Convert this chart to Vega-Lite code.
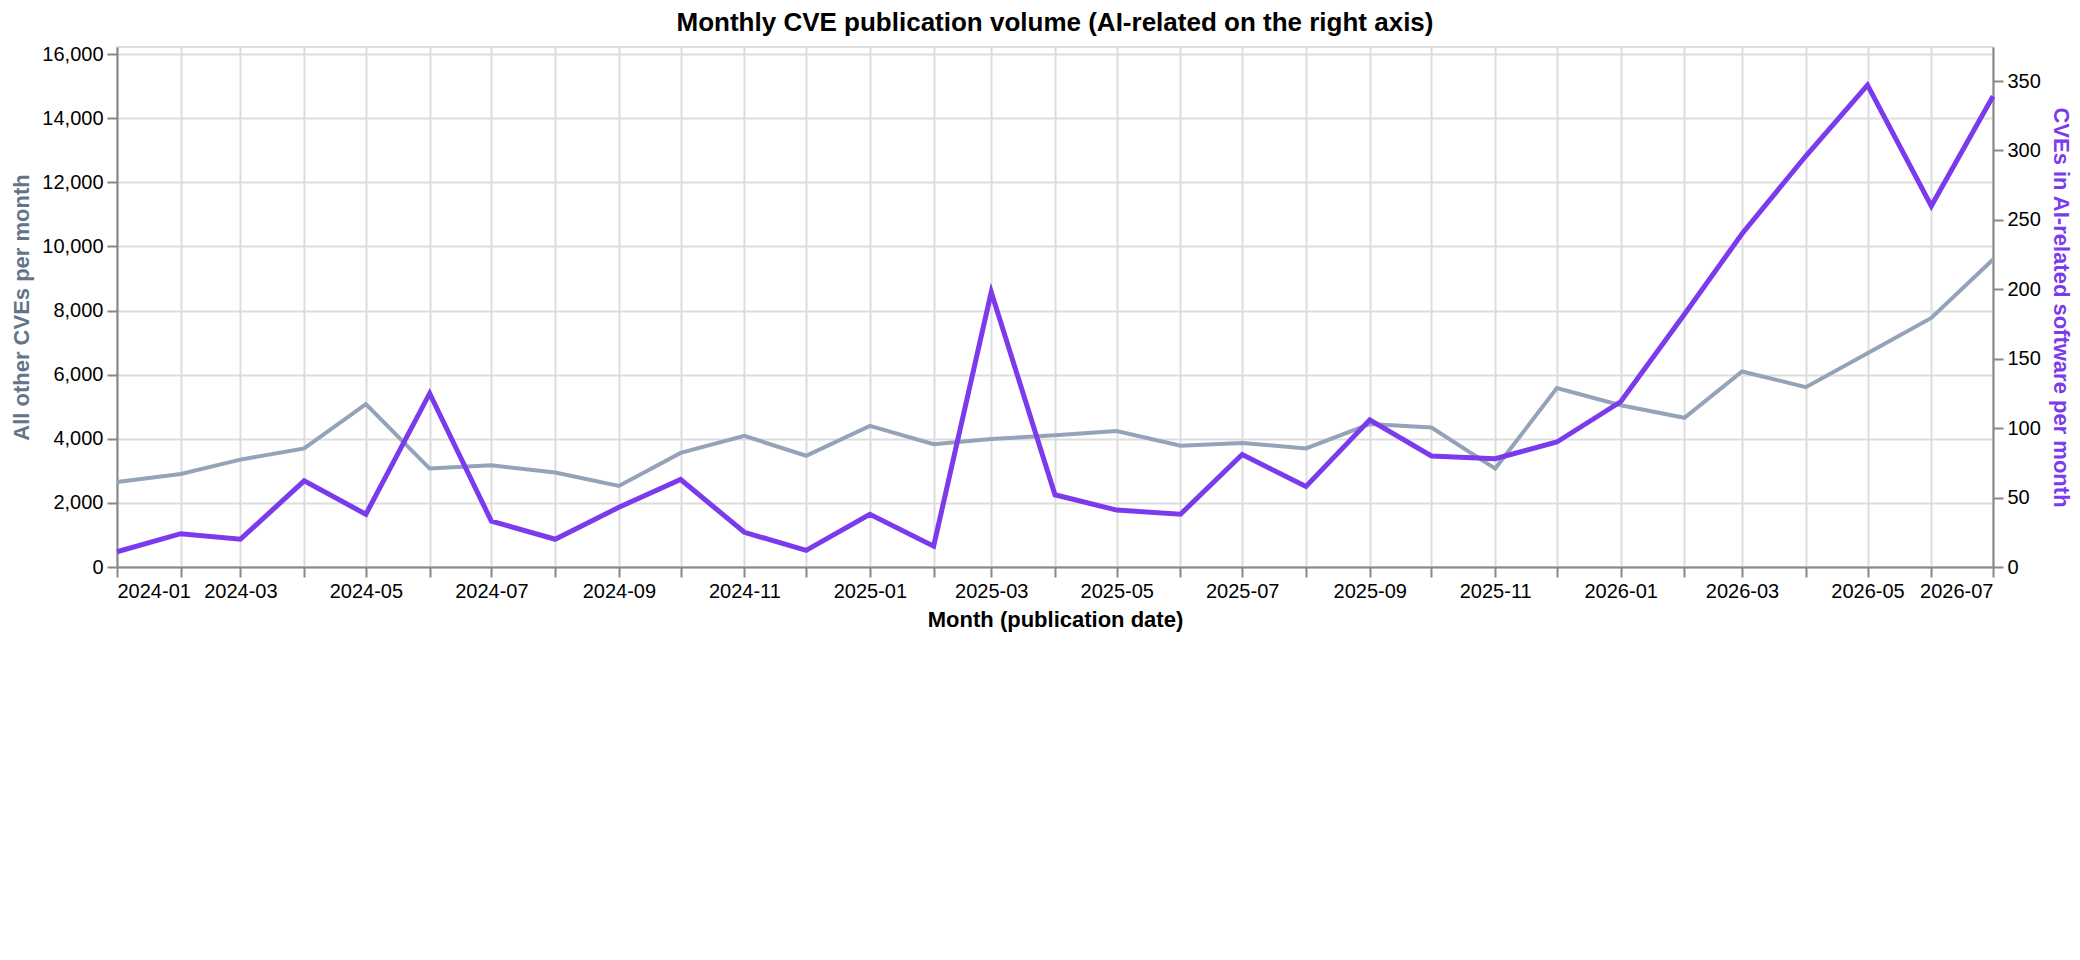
{
  "$schema": "https://vega.github.io/schema/vega-lite/v6.json",
  "title": {
    "text": "Monthly CVE publication volume (AI-related on the right axis)",
    "fontSize": 26,
    "offset": 8
  },
  "width": 1876,
  "height": 520,
  "padding": 10,
  "config": {
    "font": "Liberation Sans",
    "view": {"stroke": "#ddd", "strokeWidth": 2},
    "axis": {
      "labelFontSize": 20,
      "titleFontSize": 22,
      "tickSize": 10,
      "tickWidth": 2,
      "domainWidth": 2,
      "gridWidth": 2,
      "labelPadding": 4,
      "titlePadding": 8
    }
  },
  "data": {
    "values": [
      {"month": "2024-01-01", "other": 2650, "ai": 11},
      {"month": "2024-02-01", "other": 2900, "ai": 24},
      {"month": "2024-03-01", "other": 3350, "ai": 20},
      {"month": "2024-04-01", "other": 3700, "ai": 62},
      {"month": "2024-05-01", "other": 5080, "ai": 38},
      {"month": "2024-06-01", "other": 3070, "ai": 125},
      {"month": "2024-07-01", "other": 3170, "ai": 33},
      {"month": "2024-08-01", "other": 2950, "ai": 20},
      {"month": "2024-09-01", "other": 2530, "ai": 43},
      {"month": "2024-10-01", "other": 3560, "ai": 63},
      {"month": "2024-11-01", "other": 4090, "ai": 25},
      {"month": "2024-12-01", "other": 3470, "ai": 12},
      {"month": "2025-01-01", "other": 4400, "ai": 38},
      {"month": "2025-02-01", "other": 3830, "ai": 15},
      {"month": "2025-03-01", "other": 3990, "ai": 198},
      {"month": "2025-04-01", "other": 4110, "ai": 52},
      {"month": "2025-05-01", "other": 4240, "ai": 41},
      {"month": "2025-06-01", "other": 3780, "ai": 38},
      {"month": "2025-07-01", "other": 3870, "ai": 81},
      {"month": "2025-08-01", "other": 3700, "ai": 58},
      {"month": "2025-09-01", "other": 4460, "ai": 106},
      {"month": "2025-10-01", "other": 4350, "ai": 80},
      {"month": "2025-11-01", "other": 3070, "ai": 78},
      {"month": "2025-12-01", "other": 5580, "ai": 90},
      {"month": "2026-01-01", "other": 5045, "ai": 119},
      {"month": "2026-02-01", "other": 4655, "ai": 182},
      {"month": "2026-03-01", "other": 6100, "ai": 240},
      {"month": "2026-04-01", "other": 5610, "ai": 296},
      {"month": "2026-05-01", "other": 6670, "ai": 347},
      {"month": "2026-06-01", "other": 7770, "ai": 260},
      {"month": "2026-07-01", "other": 9590, "ai": 339}
    ]
  },
  "encoding": {
    "x": {
      "field": "month",
      "timeUnit": "utcyearmonth",
      "type": "temporal",
      "title": "Month (publication date)",
      "axis": {"format": "%Y-%m", "tickCount": "month"}
    }
  },
  "layer": [
    {
      "mark": {"type": "line", "color": "#94a3b8", "strokeWidth": 4},
      "encoding": {
        "y": {
          "field": "other",
          "type": "quantitative",
          "scale": {"domain": [0, 16220], "nice": false},
          "axis": {
            "title": "All other CVEs per month",
            "titleColor": "#64748b",
            "tickCount": 8
          }
        }
      }
    },
    {
      "mark": {"type": "line", "color": "#7c3aed", "strokeWidth": 5},
      "encoding": {
        "y": {
          "field": "ai",
          "type": "quantitative",
          "scale": {"domain": [0, 374.5], "nice": false},
          "axis": {
            "title": "CVEs in AI-related software per month",
            "titleColor": "#7c3aed",
            "orient": "right",
            "grid": false,
            "tickCount": 8
          }
        }
      }
    }
  ],
  "resolve": {"scale": {"y": "independent"}}
}
